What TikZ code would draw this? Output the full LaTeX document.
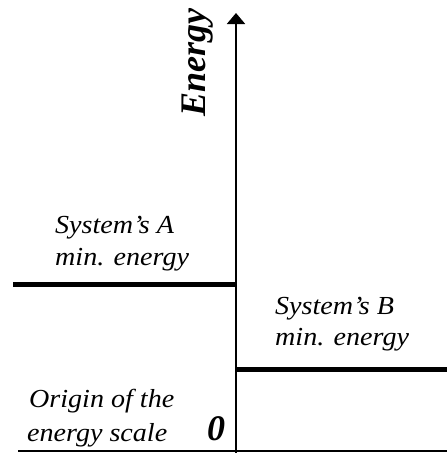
\documentclass[tikz,border=0pt]{standalone}
\usepackage{fontspec}
\setmainfont{Liberation Serif}
\newfontfamily\labfont[FakeStretch=1.08,Ligatures=TeX]{Liberation Serif}
\usetikzlibrary{arrows.meta}
\tikzset{
  lab/.style={inner sep=0pt, anchor=base west, font=\labfont\fontsize{26}{31}\selectfont\itshape},
  big/.style={inner sep=0pt, anchor=base west, font=\fontsize{36}{40}\selectfont\bfseries\itshape},
  level/.style={line width=5pt},
  axisline/.style={line width=2pt},
}
\begin{document}
\begin{tikzpicture}[x=1pt,y=-1pt]
\useasboundingbox (0,0) rectangle (447,453);
\fill[white] (0,0) rectangle (447,453);
% axis
\coordinate (axbot) at (236,453);
\coordinate (axtop) at (236,13);
\draw[axisline,-{Triangle[length=11pt,width=18pt]}] (axbot) -- (axtop);
% baseline
\coordinate (b0) at (18,450.5);
\coordinate (b1) at (447,450.5);
\draw[line width=2pt] (b0) -- (b1);
% levels
\coordinate (a0) at (13,284);
\coordinate (a1) at (236,284);
\draw[level] (a0) -- (a1);
\coordinate (c0) at (236,369.5);
\coordinate (c1) at (447,369.5);
\draw[level] (c0) -- (c1);
% labels
\node[big, rotate=90] (energy) at (205,117) {Energy};
\node[big] (zero) at (207,440) {0};
\node[lab] (a1t) at (55,233) {System’s A};
\node[lab] (a2t) at (55,265) {min. energy};
\node[lab] (b1t) at (275,314) {System’s B};
\node[lab] (b2t) at (275,345) {min. energy};
\node[lab] (o1t) at (29,407) {Origin of the};
\node[lab] (o2t) at (27,441) {energy scale};
\end{tikzpicture}
\end{document}
